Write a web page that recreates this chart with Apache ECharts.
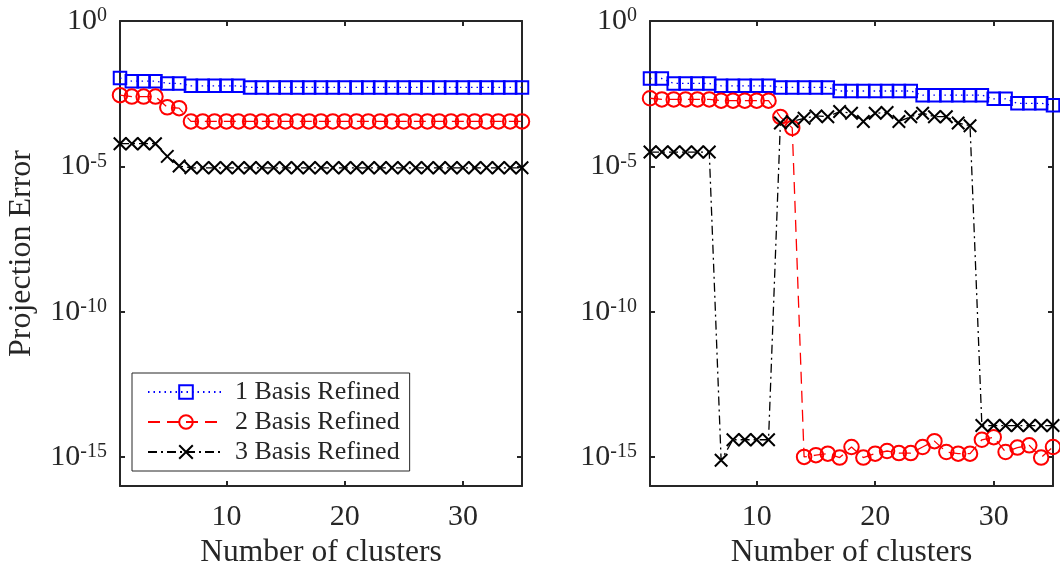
<!DOCTYPE html>
<html>
<head>
<meta charset="utf-8">
<script src="https://cdn.jsdelivr.net/npm/echarts@6/dist/echarts.min.js"></script>
<style>
  html, body { margin: 0; padding: 0; background: #fff; }
  #chart { width: 1060px; height: 574px; }
</style>
</head>
<body>
<div id="chart"></div>
<script>
// Number of clusters (x values shared by both panels)
const clusters = [1, 2, 3, 4, 5, 6, 7, 8, 9, 10, 11, 12, 13, 14, 15, 16, 17, 18,
  19, 20, 21, 22, 23, 24, 25, 26, 27, 28, 29, 30, 31, 32, 33, 34, 35];

// Left panel: projection error per refinement level
const leftBasis1 = [1.1e-2, 8.5e-3, 8.5e-3, 8.5e-3, 7.1e-3, 7.1e-3,
  5.9e-3, 5.9e-3, 5.9e-3, 5.9e-3, 5.9e-3,
  5.2e-3, 5.2e-3, 5.2e-3, 5.2e-3, 5.2e-3, 5.2e-3, 5.2e-3, 5.2e-3, 5.2e-3, 5.2e-3,
  5.2e-3, 5.2e-3, 5.2e-3, 5.2e-3, 5.2e-3, 5.2e-3, 5.2e-3, 5.2e-3, 5.2e-3, 5.2e-3,
  5.2e-3, 5.2e-3, 5.2e-3, 5.2e-3];
const leftBasis2 = [2.8e-3, 2.5e-3, 2.5e-3, 2.5e-3, 1.07e-3, 1.0e-3,
  3.5e-4, 3.5e-4, 3.5e-4, 3.5e-4, 3.5e-4, 3.5e-4, 3.5e-4, 3.5e-4, 3.5e-4, 3.5e-4,
  3.5e-4, 3.5e-4, 3.5e-4, 3.5e-4, 3.5e-4, 3.5e-4, 3.5e-4, 3.5e-4, 3.5e-4, 3.5e-4,
  3.5e-4, 3.5e-4, 3.5e-4, 3.5e-4, 3.5e-4, 3.5e-4, 3.5e-4, 3.5e-4, 3.5e-4];
const leftBasis3 = [6.0e-5, 6.0e-5, 6.0e-5, 6.0e-5, 2.2e-5, 1.02e-5,
  8.9e-6, 8.9e-6, 8.9e-6, 8.9e-6, 8.9e-6, 8.9e-6, 8.9e-6, 8.9e-6, 8.9e-6, 8.9e-6,
  8.9e-6, 8.9e-6, 8.9e-6, 8.9e-6, 8.9e-6, 8.9e-6, 8.9e-6, 8.9e-6, 8.9e-6, 8.9e-6,
  8.9e-6, 8.9e-6, 8.9e-6, 8.9e-6, 8.9e-6, 8.9e-6, 8.9e-6, 8.9e-6, 8.9e-6];

// Right panel
const rightBasis1 = [1.05e-2, 1.05e-2, 7.1e-3, 7.1e-3, 7.1e-3, 7.1e-3,
  5.9e-3, 5.9e-3, 5.9e-3, 5.9e-3, 5.9e-3,
  5.2e-3, 5.2e-3, 5.2e-3, 5.2e-3, 5.2e-3,
  3.9e-3, 3.9e-3, 3.9e-3, 3.9e-3, 3.9e-3, 3.9e-3, 3.9e-3,
  2.8e-3, 2.8e-3, 2.8e-3, 2.8e-3, 2.8e-3, 2.8e-3,
  2.1e-3, 2.1e-3, 1.47e-3, 1.47e-3, 1.47e-3, 1.25e-3];
const rightBasis2 = [2.2e-3, 2.0e-3, 2.0e-3, 2.0e-3, 2.0e-3, 2.0e-3,
  1.82e-3, 1.82e-3, 1.82e-3, 1.82e-3, 1.82e-3, 5.0e-4, 2.1e-4,
  1.0e-15, 1.15e-15, 1.3e-15, 9.5e-16, 2.2e-15, 9.5e-16, 1.3e-15, 1.6e-15,
  1.36e-15, 1.36e-15, 2.2e-15, 3.5e-15, 1.48e-15, 1.3e-15, 1.3e-15, 3.9e-15,
  4.8e-15, 1.48e-15, 2.1e-15, 2.5e-15, 9.5e-16, 2.2e-15];
const rightBasis3 = [3.1e-5, 3.1e-5, 3.1e-5, 3.1e-5, 3.1e-5, 3.1e-5,
  7.7e-16, 3.9e-15, 3.9e-15, 3.9e-15, 3.9e-15,
  3.1e-4, 3.5e-4, 4.5e-4, 5.4e-4, 5.1e-4, 7.7e-4, 6.7e-4, 3.5e-4, 6.7e-4,
  7.1e-4, 3.5e-4, 5.1e-4, 6.7e-4, 5.1e-4, 5.1e-4, 3.1e-4, 2.5e-4,
  1.2e-14, 1.2e-14, 1.2e-14, 1.2e-14, 1.2e-14, 1.2e-14, 1.2e-14];

// Tick positions
const xTicks = [10, 20, 30];
const yTicks = [1e-15, 1e-10, 1e-5, 1];

const seriesNames = ['1 Basis Refined', '2 Basis Refined', '3 Basis Refined'];

const FONT = '"Liberation Serif", "Times New Roman", serif';
const AXIS_COLOR = '#262626';

const chart = echarts.init(document.getElementById('chart'), null, { renderer: 'canvas' });

const pair = (ys) => clusters.map((x, i) => [x, ys[i]]);

const styles = [
  { color: '#0000ff', dash: [1.5, 4], symbol: 'rect', size: 12.5 },
  { color: '#ff0000', dash: [12, 7], symbol: 'circle', size: 14.5 },
  { color: '#000000', dash: [9, 4, 2, 4], symbol: 'path://M0,0L10,10M10,0L0,10', size: 12.5 }
];

function makeSeries(values, k, axisIdx) {
  const s = styles[k];
  return {
    name: seriesNames[k],
    type: 'line',
    xAxisIndex: axisIdx,
    yAxisIndex: axisIdx,
    data: pair(values),
    symbol: s.symbol,
    symbolSize: s.size,
    showAllSymbol: true,
    animation: false,
    lineStyle: { color: s.color, width: 1.3, type: s.dash },
    itemStyle: { color: 'transparent', borderColor: s.color, borderWidth: 2 },
    emphasis: { disabled: true }
  };
}

function xAxisPair(gridIndex) {
  return [
    {
      type: 'value', gridIndex, position: 'bottom', min: 1, max: 35,
      name: 'Number of clusters', nameLocation: 'middle', nameGap: 51,
      nameTextStyle: { fontFamily: FONT, fontSize: 31.5, color: AXIS_COLOR },
      axisLine: { show: true, onZero: false, lineStyle: { color: AXIS_COLOR, width: 2 } },
      axisTick: { show: true, inside: true, length: 5, customValues: xTicks, lineStyle: { color: AXIS_COLOR, width: 2 } },
      axisLabel: { show: true, customValues: xTicks, margin: 16, fontFamily: FONT, fontSize: 30, color: AXIS_COLOR },
      splitLine: { show: false }
    },
    {
      type: 'value', gridIndex, position: 'top', min: 1, max: 35,
      axisLine: { show: true, onZero: false, lineStyle: { color: AXIS_COLOR, width: 2 } },
      axisTick: { show: true, inside: true, length: 5, customValues: xTicks, lineStyle: { color: AXIS_COLOR, width: 2 } },
      axisLabel: { show: false },
      splitLine: { show: false }
    }
  ];
}

function yLabel(v) {
  const e = Math.round(Math.log10(v));
  return '{b|10}{e|' + e + '}';
}

function yAxisPair(gridIndex, withName) {
  return [
    {
      type: 'log', logBase: 10, gridIndex, position: 'left', min: 1e-16, max: 1,
      name: withName ? 'Projection Error' : '', nameLocation: 'middle', nameGap: 82,
      nameTextStyle: { fontFamily: FONT, fontSize: 32, color: AXIS_COLOR },
      axisLine: { show: true, onZero: false, lineStyle: { color: AXIS_COLOR, width: 2 } },
      axisTick: { show: true, inside: true, length: 5, customValues: yTicks, lineStyle: { color: AXIS_COLOR, width: 2 } },
      axisLabel: {
        show: true, customValues: yTicks, margin: 13, formatter: yLabel,
        rich: {
          b: { fontFamily: FONT, fontSize: 30, color: AXIS_COLOR, lineHeight: 30, verticalAlign: 'bottom', padding: [6, 0, 0, 0] },
          e: { fontFamily: FONT, fontSize: 20, color: AXIS_COLOR, lineHeight: 20, verticalAlign: 'top' }
        }
      },
      splitLine: { show: false }
    },
    {
      type: 'log', logBase: 10, gridIndex, position: 'right', min: 1e-16, max: 1,
      axisLine: { show: true, onZero: false, lineStyle: { color: AXIS_COLOR, width: 2 } },
      axisTick: { show: true, inside: true, length: 5, customValues: yTicks, lineStyle: { color: AXIS_COLOR, width: 2 } },
      axisLabel: { show: false },
      splitLine: { show: false }
    }
  ];
}

const option = {
  backgroundColor: '#ffffff',
  animation: false,
  grid: [
    { left: 120, top: 17, width: 402, height: 469, containLabel: false },
    { left: 650, top: 17, width: 403, height: 469, containLabel: false }
  ],
  xAxis: [...xAxisPair(0), ...xAxisPair(1)],
  yAxis: [...yAxisPair(0, true), ...yAxisPair(1, false)],
  legend: {
    data: seriesNames,
    orient: 'vertical',
    left: 132,
    top: 373,
    padding: [6, 10, 6, 15],
    itemGap: 4,
    itemWidth: 76,
    itemHeight: 17,
    backgroundColor: '#ffffff',
    borderColor: AXIS_COLOR,
    borderWidth: 1,
    selectedMode: false,
    textStyle: { fontFamily: FONT, fontSize: 26, color: AXIS_COLOR, padding: [0, 0, 0, 6] }
  },
  series: [
    makeSeries(leftBasis1, 0, 0),
    makeSeries(leftBasis2, 1, 0),
    makeSeries(leftBasis3, 2, 0),
    makeSeries(rightBasis1, 0, 2),
    makeSeries(rightBasis2, 1, 2),
    makeSeries(rightBasis3, 2, 2)
  ]
};

chart.setOption(option);
</script>
</body>
</html>
